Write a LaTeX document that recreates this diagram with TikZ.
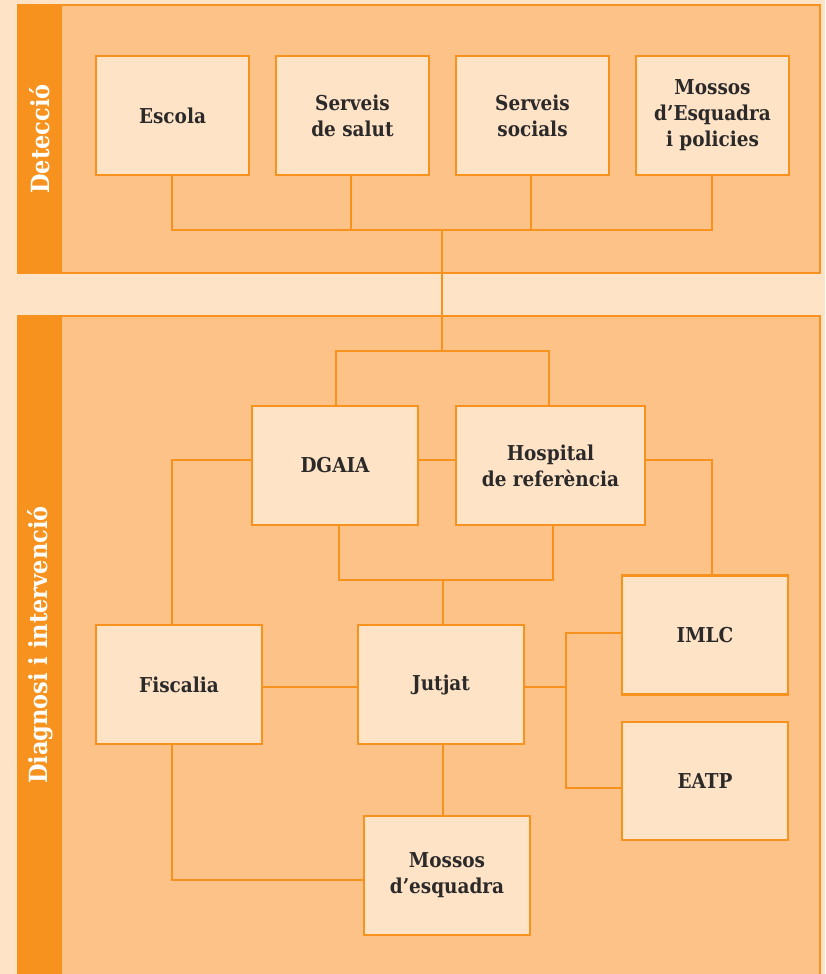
\documentclass[tikz,border=0pt]{standalone}
\usepackage{fontspec}
\setmainfont{DejaVu Serif Condensed}
\definecolor{bgc}{HTML}{FFE3C7}
\definecolor{panelc}{HTML}{FDC287}
\definecolor{orangec}{HTML}{F7921E}
\definecolor{boxc}{HTML}{FFE3C7}
\definecolor{txtc}{HTML}{2B2A29}
\pgfdeclarelayer{panels}
\pgfdeclarelayer{links}
\pgfsetlayers{panels,links,main}
\tikzset{
  orgbox/.style={draw=orangec, line width=2.4pt, fill=boxc, text=txtc, align=center,
    inner sep=0pt, font=\fontsize{20.5}{26}\selectfont\bfseries},
  link/.style={draw=orangec, line width=2.2pt},
  panelbox/.style={draw=orangec, line width=2pt, fill=panelc},
  strip/.style={fill=orangec},
  striptext/.style={rotate=90, text=white, font=\fontsize{25}{28}\selectfont\bfseries}
}
\begin{document}
\begin{tikzpicture}[x=1pt,y=-1pt]
\useasboundingbox (0,0) rectangle (825,974);
\begin{pgfonlayer}{panels}
\fill[bgc] (0,0) rectangle (825,974);
\clip (0,0) rectangle (825,974);
\draw[panelbox] (18,5) rectangle (820,273);
\fill[strip] (18,5) rectangle (62,273);
\draw[panelbox] (18,316) rectangle (820,990);
\fill[strip] (18,316) rectangle (62,990);
\end{pgfonlayer}
\node[striptext] (lab1) at (40,139) {Detecció};
\node[striptext] (lab2) at (40,645) {Diagnosi i intervenció};
% coordinates
\coordinate (tb) at (442,230);
\coordinate (hb) at (442,351);
\coordinate (jl) at (339,580);
\coordinate (jr) at (553,580);
\coordinate (jm) at (443,580);
\coordinate (fx) at (172,460);
\coordinate (ix) at (712,460);
\coordinate (rv) at (566,687);
\coordinate (rt) at (566,633);
\coordinate (rb) at (566,788);
\coordinate (fb) at (172,880);
% boxes
\node[orgbox, minimum width=153pt, minimum height=119pt] (esc) at (172.5,115.5) {Escola};
\node[orgbox, minimum width=153pt, minimum height=119pt] (sal) at (352.5,115.5) {Serveis\\de salut};
\node[orgbox, minimum width=153pt, minimum height=119pt] (soc) at (532.5,115.5) {Serveis\\socials};
\node[orgbox, minimum width=153pt, minimum height=119pt] (mos) at (712.5,115.5) {Mossos\\d’Esquadra\\i policies};
\node[orgbox, minimum width=166pt, minimum height=119pt] (dg) at (335,465.5) {DGAIA};
\node[orgbox, minimum width=189pt, minimum height=119pt] (hos) at (550.5,465.5) {Hospital\\de referència};
\node[orgbox, minimum width=166pt, minimum height=119pt] (fis) at (179,684.5) {Fiscalia};
\node[orgbox, minimum width=166pt, minimum height=119pt] (ju) at (441,684.5) {Jutjat};
\node[orgbox, minimum width=166pt, minimum height=119pt] (iml) at (705,635) {IMLC};
\node[orgbox, minimum width=166pt, minimum height=118pt] (eat) at (705,781) {EATP};
\node[orgbox, minimum width=166pt, minimum height=119pt] (mq) at (447,875.5) {Mossos\\d’esquadra};
\begin{pgfonlayer}{links}
% top links
\draw[link] (esc.south -| fx) |- (tb) -| (mos.south -| ix);
\draw[link] (sal.south -| 351,0) -- (351,230);
\draw[link] (soc.south -| 531,0) -- (531,230);
\draw[link] (tb) -- (hb);
\draw[link] (dg.north -| 336,0) |- (hb) -| (hos.north -| 549,0);
% middle links
\draw[link] (dg.east |- fx) -- (hos.west |- fx);
\draw[link] (dg.west |- fx) -- (fx) -- (fis.north -| fx);
\draw[link] (hos.east |- ix) -- (ix) -- (iml.north -| ix);
\draw[link] (dg.south -| jl) -- (jl) -- (jr) -- (hos.south -| jr);
\draw[link] (jm) -- (ju.north -| jm);
% lower links
\draw[link] (fis.east |- rv) -- (ju.west |- rv);
\draw[link] (ju.east |- rv) -- (rv);
\draw[link] (iml.west |- rt) -- (rt) -- (rb) -- (eat.west |- rb);
\draw[link] (fis.south -| fb) -- (fb) -- (mq.west |- fb);
\draw[link] (ju.south -| jm) -- (mq.north -| jm);
\end{pgfonlayer}
\end{tikzpicture}
\end{document}
